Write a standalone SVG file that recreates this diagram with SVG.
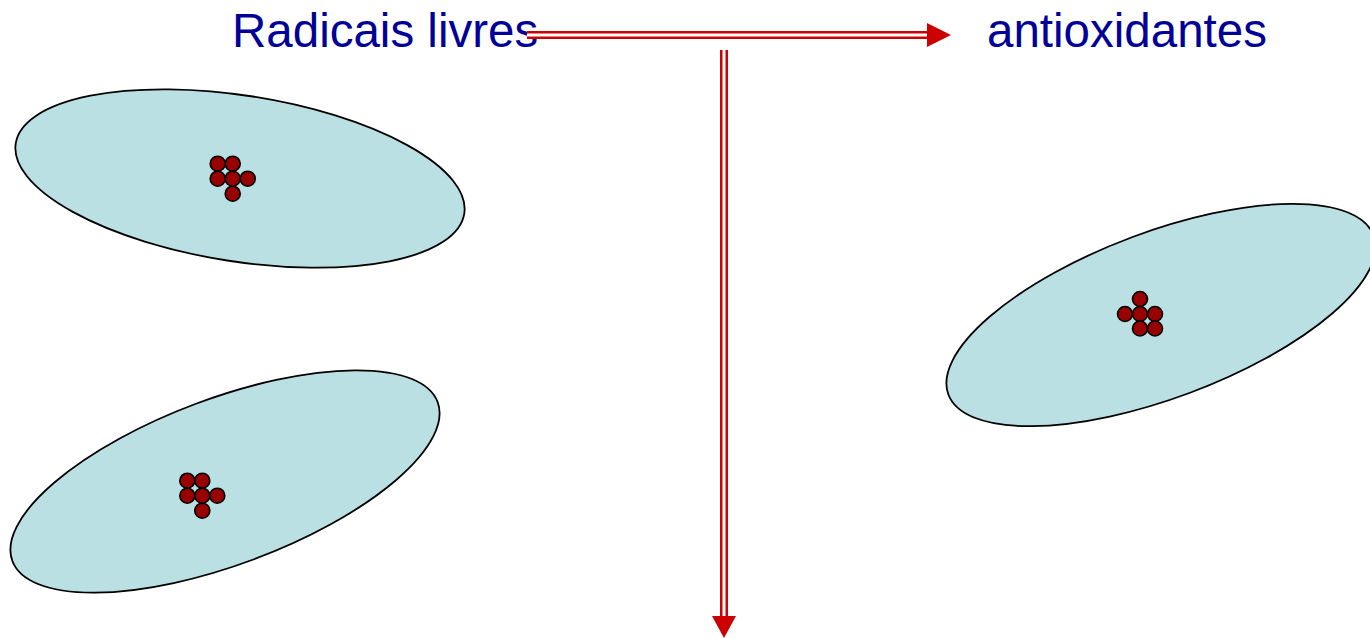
<svg xmlns="http://www.w3.org/2000/svg" width="1370" height="639" viewBox="0 0 1370 639">
<style>
.cell{fill:#BAE0E3;stroke:#000;stroke-width:1.8}
.dot{fill:#990000;stroke:#000;stroke-width:1.6}
.lbl{font-family:"Liberation Sans",Arial,sans-serif;font-size:47.5px;fill:#000099}
.outer{stroke:#CC0000;stroke-width:8;fill:none}
.inner{stroke:#FFFFFF;stroke-width:3;fill:none}
.head{fill:#CC0000}
</style>
<rect width="1370" height="639" fill="#FFFFFF"/>
<g id="cell1">
<ellipse class="cell" cx="240" cy="178.5" rx="227" ry="83" transform="rotate(8.9 240 178.5)"/>
<circle class="dot" cx="217.7" cy="163.7" r="7.5"/>
<circle class="dot" cx="232.7" cy="163.7" r="7.5"/>
<circle class="dot" cx="217.7" cy="178.7" r="7.5"/>
<circle class="dot" cx="232.7" cy="178.7" r="7.5"/>
<circle class="dot" cx="247.7" cy="178.7" r="7.5"/>
<circle class="dot" cx="232.7" cy="193.7" r="7.5"/>
</g>
<g id="cell2">
<ellipse class="cell" cx="225" cy="481.5" rx="227" ry="83" transform="rotate(-20.5 225 481.5)"/>
<circle class="dot" cx="187.3" cy="480.7" r="7.5"/>
<circle class="dot" cx="202.3" cy="480.7" r="7.5"/>
<circle class="dot" cx="187.3" cy="495.7" r="7.5"/>
<circle class="dot" cx="202.3" cy="495.7" r="7.5"/>
<circle class="dot" cx="217.3" cy="495.7" r="7.5"/>
<circle class="dot" cx="202.3" cy="510.7" r="7.5"/>
</g>
<g id="cell3">
<ellipse class="cell" cx="1161" cy="315" rx="227" ry="83" transform="rotate(-20.5 1161 315)"/>
<circle class="dot" cx="1140" cy="299" r="7.5"/>
<circle class="dot" cx="1125" cy="314" r="7.5"/>
<circle class="dot" cx="1140" cy="314" r="7.5"/>
<circle class="dot" cx="1155" cy="314" r="7.5"/>
<circle class="dot" cx="1140" cy="328.5" r="7.5"/>
<circle class="dot" cx="1155" cy="328.5" r="7.5"/>
</g>
<g id="label-radicais">
<text class="lbl" x="232" y="47">Radicais livres</text>
</g>
<g id="label-antioxidantes">
<text class="lbl" x="987" y="47">antioxidantes</text>
</g>
<g id="connectors">
<line class="outer" x1="527" y1="35" x2="928" y2="35"/>
<line class="inner" x1="527" y1="35" x2="928" y2="35"/>
<polygon class="head" points="927,23 951,35 927,47"/>
<line class="outer" x1="724" y1="50" x2="724" y2="617"/>
<line class="inner" x1="724" y1="50" x2="724" y2="617"/>
<polygon class="head" points="712,616 736,616 724,638"/>
</g>
</svg>
